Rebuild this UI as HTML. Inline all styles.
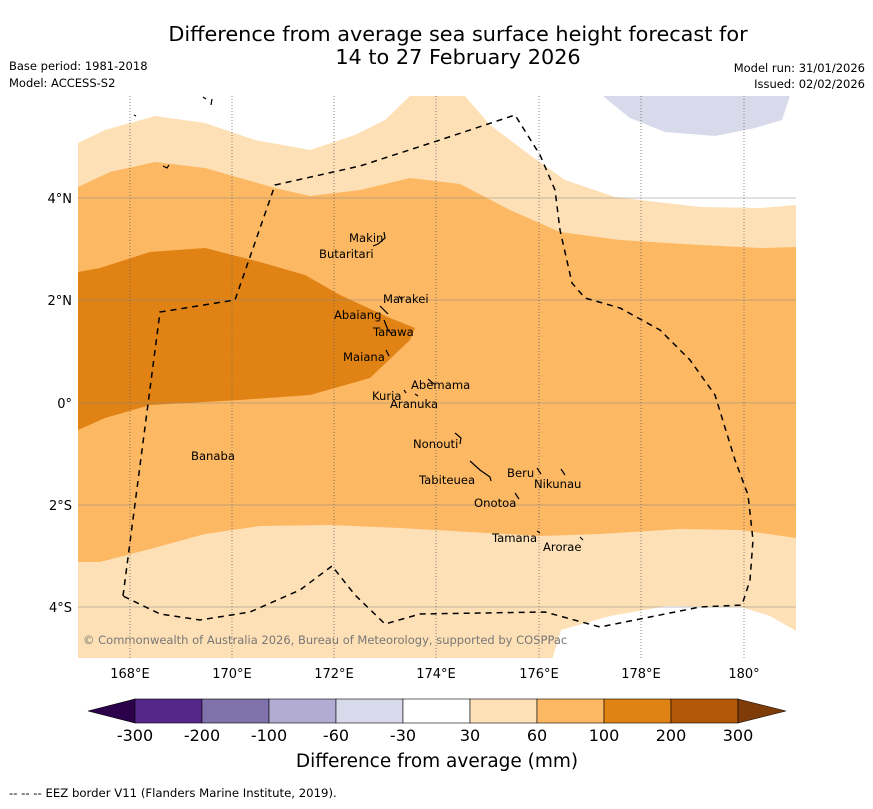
<!DOCTYPE html>
<html><head><meta charset="utf-8"><style>
body{margin:0;background:#fff;width:873px;height:804px;overflow:hidden;font-family:"Liberation Sans","DejaVu Sans",sans-serif}
</style></head><body>
<svg width="873" height="804" viewBox="0 0 873 804" xmlns="http://www.w3.org/2000/svg" font-family="DejaVu Sans, Liberation Sans, sans-serif">
<text x="458" y="41" font-size="20.8" text-anchor="middle">Difference from average sea surface height forecast for</text>
<text x="458" y="64" font-size="20.8" text-anchor="middle">14 to 27 February 2026</text>
<text x="9" y="70" font-size="11.5">Base period: 1981-2018</text>
<text x="9" y="87" font-size="11.5">Model: ACCESS-S2</text>
<text x="865" y="72" font-size="11.5" text-anchor="end">Model run: 31/01/2026</text>
<text x="865" y="88" font-size="11.5" text-anchor="end">Issued: 02/02/2026</text>
<defs><clipPath id="mc"><rect x="78" y="96" width="718" height="562"/></clipPath></defs>
<g clip-path="url(#mc)">
<rect x="78" y="96" width="718" height="562" fill="#fee0b6"/>
<path d="M78,96 L78,143 L105,130 L155,116 L205,123 L255,140 L310,150 L355,135 L385,120 L410,96 Z" fill="#fff"/>
<path d="M465,96 L490,125 L530,155 L565,180 L615,197 L700,207 L760,208 L796,205 L796,96 Z" fill="#fff"/>
<path d="M603,96 L615,106 L630,118 L665,132 L715,136 L755,128 L782,120 L790,96 Z" fill="#d8daeb"/>
<path d="M552,660 L561,630 L610,616 L667,606 L741,607 L770,616 L798,632 L798,660 Z" fill="#fff"/>
<path d="M78,187 L110,172 L155,162 L205,168 L240,178 L275,188 L310,196 L360,190 L410,178 L460,184 L510,210 L560,232 L620,240 L700,245 L760,248 L796,247 L796,538 L740,530 L680,529 L600,534 L540,536 L470,532 L400,528 L330,525 L260,526 L205,534 L150,549 L100,562 L78,562 Z" fill="#fdb863"/>
<path d="M78,272 L100,268 L150,252 L205,248 L260,262 L305,275 L340,295 L390,318 L415,328 L410,340 L370,378 L310,395 L240,400 L150,405 L105,418 L78,430 Z" fill="#e08214"/>
<g stroke="#888" stroke-width="0.6">
<line x1="78" y1="198" x2="796" y2="198"/><line x1="78" y1="300" x2="796" y2="300"/><line x1="78" y1="403" x2="796" y2="403"/><line x1="78" y1="505" x2="796" y2="505"/><line x1="78" y1="607" x2="796" y2="607"/>
</g>
<g stroke="#666" stroke-width="0.8" stroke-dasharray="1,2">
<line x1="130" y1="96" x2="130" y2="658"/><line x1="232" y1="96" x2="232" y2="658"/><line x1="334" y1="96" x2="334" y2="658"/><line x1="436" y1="96" x2="436" y2="658"/><line x1="539" y1="96" x2="539" y2="658"/><line x1="641" y1="96" x2="641" y2="658"/><line x1="744" y1="96" x2="744" y2="658"/>
</g>
<path d="M123,596 L160,312 L235,300 L275,185 L360,166 L440,140 L515,115 L540,155 L555,190 L560,230 L572,283 L585,298 L620,308 L660,330 L690,360 L715,395 L735,460 L748,495 L753,540 L750,580 L742,605 L700,607 L600,627 L545,612 L420,614 L385,624 L355,595 L332,566 L300,590 L250,612 L200,620 L160,614 Z" fill="none" stroke="#000" stroke-width="1.5" stroke-dasharray="6,5"/>
<g font-size="11.6" fill="#000">
<text x="349" y="242">Makin</text><text x="319" y="258">Butaritari</text>
<text x="383" y="303">Marakei</text><text x="334" y="319">Abaiang</text>
<text x="373" y="336">Tarawa</text><text x="343" y="361">Maiana</text>
<text x="411" y="389">Abemama</text><text x="372" y="400">Kuria</text>
<text x="390" y="408">Aranuka</text><text x="413" y="448">Nonouti</text>
<text x="191" y="460">Banaba</text><text x="507" y="477">Beru</text>
<text x="534" y="488">Nikunau</text><text x="419" y="484">Tabiteuea</text>
<text x="474" y="507">Onotoa</text><text x="492" y="542">Tamana</text>
<text x="543" y="551">Arorae</text>
</g>
<g stroke="#000" stroke-width="1.2" fill="none">
<path d="M384,232 L385,238 L378,244 L373,246"/><path d="M399,296 L402,300"/><path d="M380,306 L388,314"/><path d="M384,320 L388,330 L392,334"/><path d="M386,350 L389,356"/><path d="M428,379 L434,384"/><path d="M404,390 L406,393"/><path d="M415,394 L418,396"/><path d="M455,433 L461,438 L460,444"/><path d="M470,461 L480,470 L490,477 L491,481"/><path d="M537,468 L541,474"/><path d="M561,469 L565,475"/><path d="M515,493 L519,499"/><path d="M537,531 L540,533"/><path d="M580,537 L583,540"/><path d="M163,166 L167,168 L169,165"/><path d="M134,115 L136,116"/><path d="M203,97 L206,99"/><path d="M212,99 L211,105"/>
</g>
<text x="83" y="644" font-size="11.5" fill="#777">© Commonwealth of Australia 2026, Bureau of Meteorology, supported by COSPPac</text>
</g>
<g font-size="13" text-anchor="middle">
<text x="130" y="678">168°E</text><text x="232" y="678">170°E</text><text x="334" y="678">172°E</text><text x="436" y="678">174°E</text><text x="539" y="678">176°E</text><text x="641" y="678">178°E</text><text x="744" y="678">180°</text>
</g>
<g font-size="13" text-anchor="end">
<text x="72" y="203">4°N</text><text x="72" y="305">2°N</text><text x="72" y="408">0°</text><text x="72" y="510">2°S</text><text x="72" y="612">4°S</text>
</g>
<g stroke="#000" stroke-width="0.6">
<polygon points="88,711 135,699 135,723" fill="#2d004b"/>
<rect x="135" y="699" width="67" height="24" fill="#542788"/>
<rect x="202" y="699" width="67" height="24" fill="#8073ac"/>
<rect x="269" y="699" width="67" height="24" fill="#b2abd2"/>
<rect x="336" y="699" width="67" height="24" fill="#d8daeb"/>
<rect x="403" y="699" width="67" height="24" fill="#ffffff"/>
<rect x="470" y="699" width="67" height="24" fill="#fee0b6"/>
<rect x="537" y="699" width="67" height="24" fill="#fdb863"/>
<rect x="604" y="699" width="67" height="24" fill="#e08214"/>
<rect x="671" y="699" width="67" height="24" fill="#b35806"/>
<polygon points="738,699 786,711 738,723" fill="#7f3b08"/>
</g>
<g font-size="16" text-anchor="middle">
<text x="135" y="741">-300</text><text x="202" y="741">-200</text><text x="269" y="741">-100</text><text x="336" y="741">-60</text><text x="403" y="741">-30</text><text x="470" y="741">30</text><text x="537" y="741">60</text><text x="604" y="741">100</text><text x="671" y="741">200</text><text x="738" y="741">300</text>
</g>
<text x="437" y="767" font-size="18.5" text-anchor="middle">Difference from average (mm)</text>
<text x="9" y="797" font-size="11.7">--  --  -- EEZ border V11 (Flanders Marine Institute, 2019).</text>
</svg>
</body></html>
